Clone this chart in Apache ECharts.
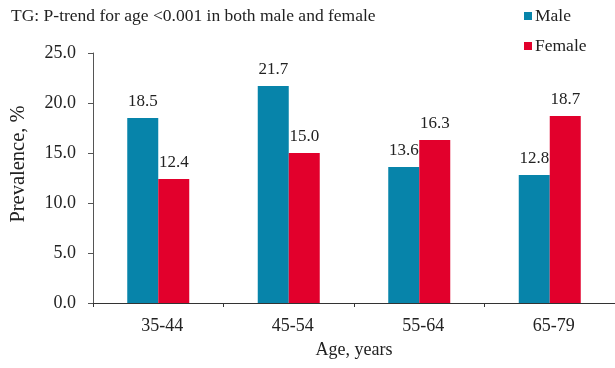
<!DOCTYPE html>
<html>
<head>
<meta charset="utf-8">
<script src="https://cdn.jsdelivr.net/npm/echarts@6/dist/echarts.min.js"></script>
<style>
  html, body { margin: 0; padding: 0; background: #fff; }
  #chart { width: 615px; height: 368px; }
</style>
</head>
<body>
<div id="chart"></div>
<script>
// Prevalence of high TG by age group and sex
const ageGroups = ['35-44', '45-54', '55-64', '65-79'];
const maleValues = [18.5, 21.7, 13.6, 12.8];
const femaleValues = [12.4, 15.0, 16.3, 18.7];
const yTicks = { min: 0, max: 25, interval: 5 };

const serif = '"Liberation Serif", "DejaVu Serif", serif';
const textColor = '#222';

const chart = echarts.init(document.getElementById('chart'), null, { renderer: 'canvas' });
chart.setOption({
  animation: false,
  textStyle: { fontFamily: serif },
  title: {
    text: 'TG: P-trend for age <0.001 in both male and female',
    left: 6,
    top: 2,
    textStyle: { fontFamily: serif, fontSize: 17.5, fontWeight: 'normal', color: textColor }
  },
  legend: {
    orient: 'vertical',
    left: 519,
    top: 2,
    itemWidth: 8,
    itemHeight: 8,
    itemGap: 12,
    icon: 'rect',
    textStyle: { fontFamily: serif, fontSize: 17.5, color: textColor, padding: [0, 0, 0, -2] },
    data: ['Male', 'Female']
  },
  grid: { left: 93, right: -2, top: 53, bottom: 65 },
  // vertical axis title, set slightly above the plot's middle
  graphic: [{
    type: 'text',
    x: 19,
    y: 164,
    rotation: Math.PI / 2,
    style: {
      text: 'Prevalence, %',
      font: '20.5px ' + serif,
      fill: textColor,
      textAlign: 'center',
      textVerticalAlign: 'middle'
    }
  }],
  xAxis: {
    type: 'category',
    data: ageGroups,
    name: 'Age, years',
    nameLocation: 'middle',
    nameGap: 38,
    nameTextStyle: { fontFamily: serif, fontSize: 18, color: textColor },
    axisLine: { lineStyle: { color: '#333', width: 1 } },
    axisTick: { show: true, alignWithLabel: false, length: 4, lineStyle: { color: '#333' } },
    axisLabel: { fontFamily: serif, fontSize: 18, color: textColor, margin: 14, padding: [0, 0, 0, 8] }
  },
  yAxis: {
    type: 'value',
    min: yTicks.min,
    max: yTicks.max,
    interval: yTicks.interval,
    axisLine: { show: true, lineStyle: { color: '#555', width: 1 } },
    axisTick: { show: true, length: 5, lineStyle: { color: '#555' } },
    splitLine: { show: false },
    axisLabel: {
      fontFamily: serif, fontSize: 18, color: textColor, margin: 17,
      formatter: v => v.toFixed(1)
    }
  },
  series: [
    {
      name: 'Male',
      type: 'bar',
      data: maleValues,
      barWidth: 31,
      barGap: '0%',
      itemStyle: { color: '#0784aa' },
      label: {
        show: true, position: 'top', distance: 8,
        fontFamily: serif, fontSize: 17, color: textColor,
        formatter: p => p.value.toFixed(1)
      }
    },
    {
      name: 'Female',
      type: 'bar',
      data: femaleValues,
      barWidth: 31,
      barGap: '0%',
      itemStyle: { color: '#e2002c' },
      label: {
        show: true, position: 'top', distance: 8,
        fontFamily: serif, fontSize: 17, color: textColor,
        formatter: p => p.value.toFixed(1)
      }
    }
  ]
});
</script>
</body>
</html>
